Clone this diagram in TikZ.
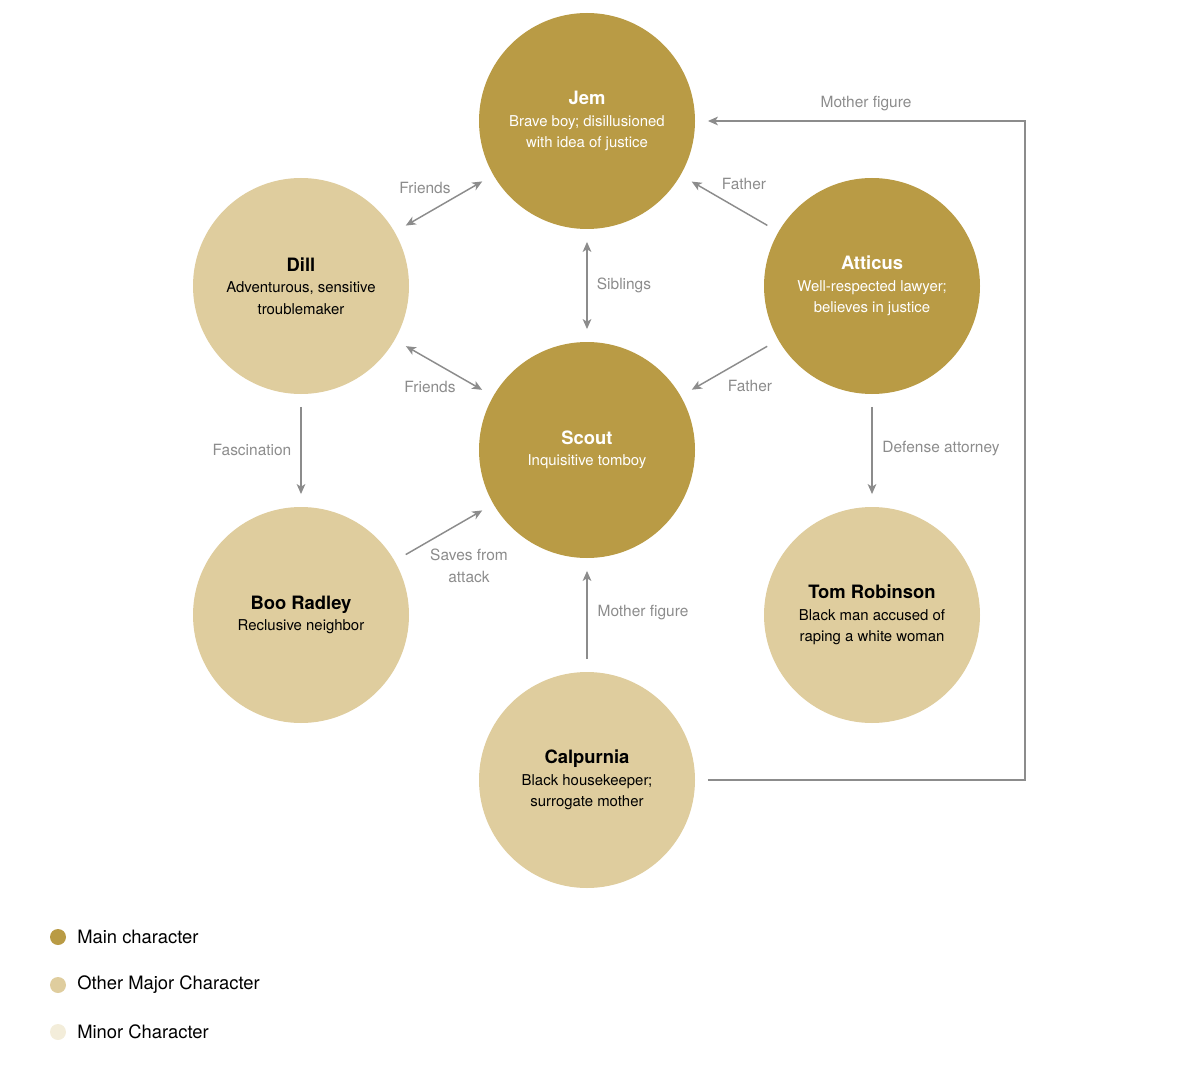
\documentclass[tikz,border=0pt]{standalone}
\usepackage{fontspec}
\setmainfont{TeX Gyre Heros}
\usetikzlibrary{arrows.meta}
\definecolor{maincol}{HTML}{B99B45}
\definecolor{majorcol}{HTML}{DFCD9E}
\definecolor{minorcol}{HTML}{F3EDDA}
\definecolor{linecol}{HTML}{8C8C8C}
\begin{document}
\begin{tikzpicture}[x=0.75pt,y=-0.75pt,
  charbase/.style={circle,minimum size=162pt,inner sep=0pt,align=center,
    font=\fontsize{11.2}{16}\selectfont},
  mainc/.style={charbase,fill=maincol,text=white},
  majorc/.style={charbase,fill=majorcol,text=black},
  arr/.style={draw=linecol,line width=1.1pt,-{Stealth[length=7.5pt,width=6.5pt,inset=2pt]},shorten >=9.5pt,shorten <=9.5pt},
  biarr/.style={arr,{Stealth[length=7.5pt,width=6.5pt,inset=2pt]}-{Stealth[length=7.5pt,width=6.5pt,inset=2pt]}},
  lbl/.style={text=linecol,font=\fontsize{11.6}{16.5}\selectfont,align=center,inner sep=0pt},
  legtxt/.style={anchor=west,font=\fontsize{13.8}{16}\selectfont,inner sep=0pt}]
\useasboundingbox (0,0) rectangle (1185,1066);
\newcommand{\cname}[1]{{\fontsize{13.8}{16}\selectfont\bfseries #1}}
\node[mainc] (jem) at (587,121) {\cname{Jem}\\Brave boy; disillusioned\\with idea of justice};
\node[majorc] (dill) at (301,286) {\cname{Dill}\\Adventurous, sensitive\\troublemaker};
\node[mainc] (atticus) at (872,286) {\cname{Atticus}\\Well-respected lawyer;\\believes in justice};
\node[mainc] (scout) at (587,450) {\cname{Scout}\\Inquisitive tomboy};
\node[majorc] (boo) at (301,615) {\cname{Boo Radley}\\Reclusive neighbor};
\node[majorc] (tom) at (872,615) {\cname{Tom Robinson}\\Black man accused of\\raping a white woman};
\node[majorc] (calp) at (587,780) {\cname{Calpurnia}\\Black housekeeper;\\surrogate mother};

\draw[biarr] (dill) -- (jem);
\draw[biarr] (dill) -- (scout);
\draw[biarr] (jem) -- (scout);
\draw[arr] (atticus) -- (jem);
\draw[arr] (atticus) -- (scout);
\draw[arr] (dill) -- (boo);
\draw[arr] (boo) -- (scout);
\draw[arr] (atticus) -- (tom);
\draw[arr] (calp) -- (scout);
\coordinate (bend) at (1025,449);
\draw[arr] (calp.east) -| (bend) |- (jem.east);

\node[lbl] (l1) at (425,188) {Friends};
\node[lbl] (l2) at (430,387) {Friends};
\node[lbl] (l3) at (624,285) {Siblings};
\node[lbl] (l4) at (744,184) {Father};
\node[lbl] (l5) at (750,386) {Father};
\node[lbl] (l6) at (252,450) {Fascination};
\node[lbl] (l7) at (469,566) {Saves from\\attack};
\node[lbl] (l8) at (941,449) {Defense attorney};
\node[lbl] (l9) at (643,613) {Mother figure};
\node[lbl] (l10) at (866,104) {Mother figure};

\fill[maincol] (58,937) circle (6pt) coordinate (d1);
\fill[majorcol] (58,985) circle (6pt) coordinate (d2);
\fill[minorcol] (58,1032) circle (6pt) coordinate (d3);
\node[legtxt] (t1) at (77,937) {Main character};
\node[legtxt] (t2) at (77,985) {Other Major Character};
\node[legtxt] (t3) at (77,1032) {Minor Character};
\end{tikzpicture}
\end{document}
